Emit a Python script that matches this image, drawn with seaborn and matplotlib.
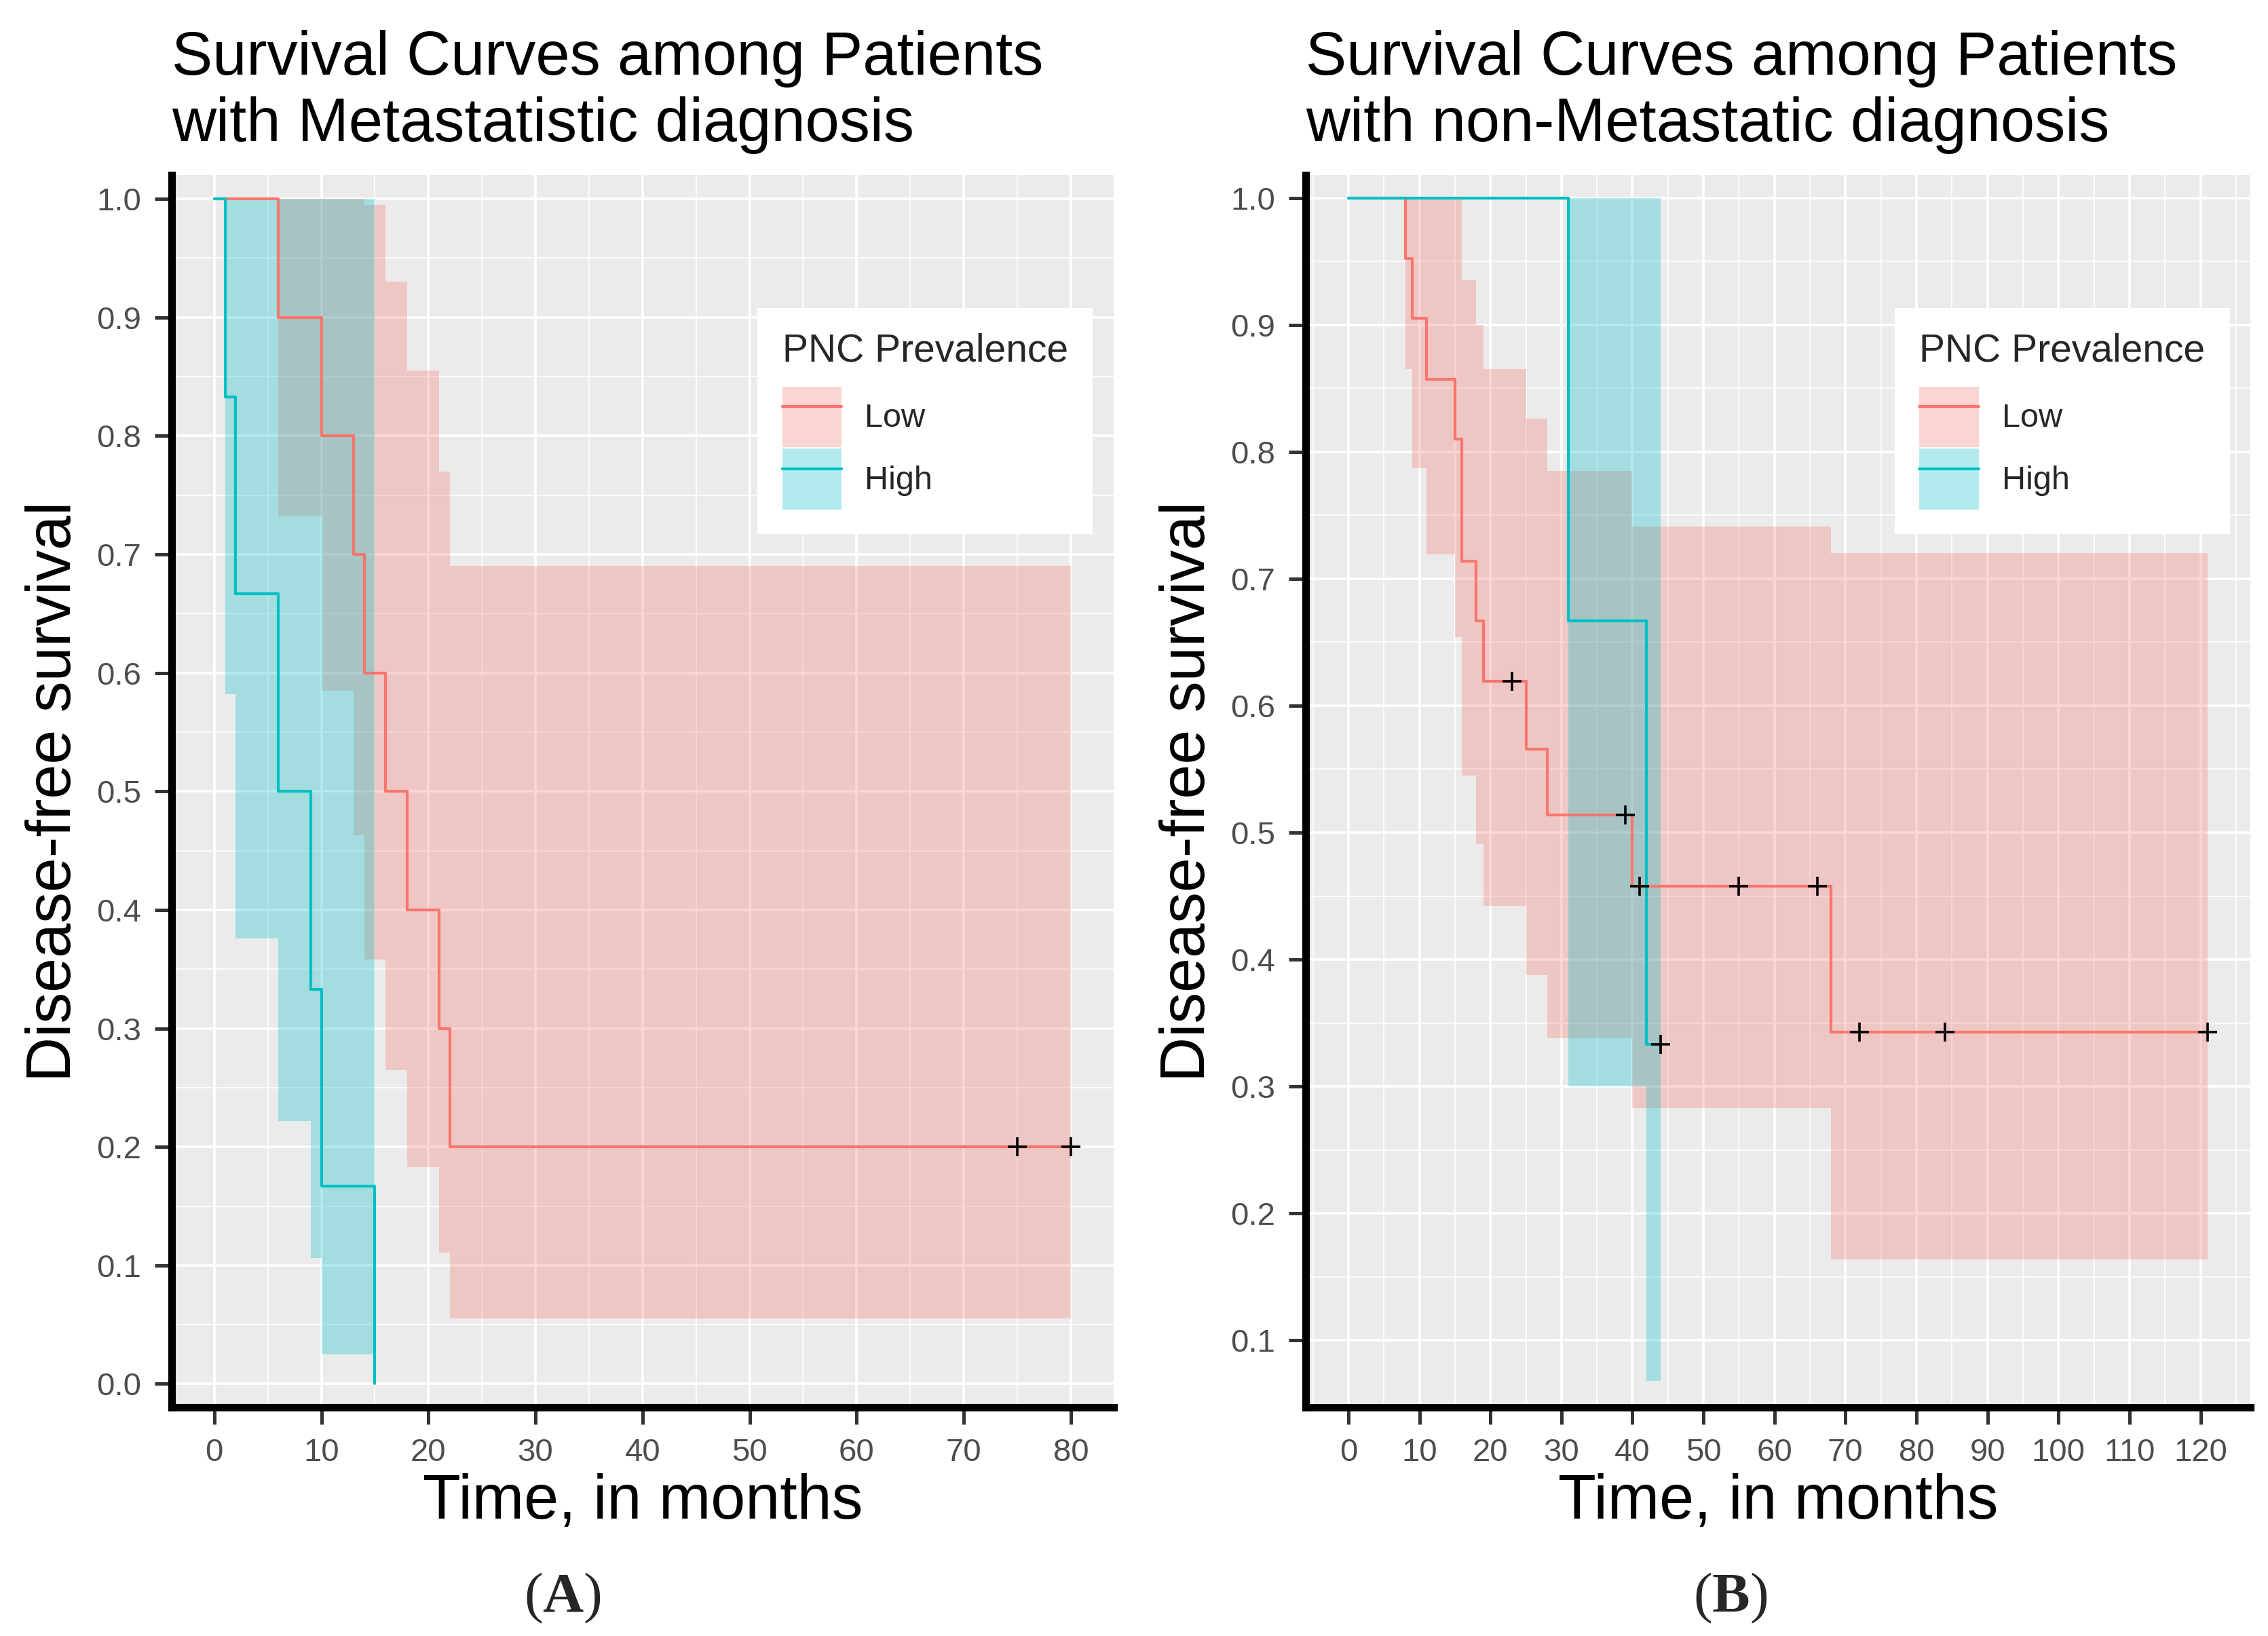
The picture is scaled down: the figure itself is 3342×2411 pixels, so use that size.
import numpy as np
import pandas as pd
import seaborn as sns
import matplotlib.pyplot as plt
from matplotlib.patches import Patch
from matplotlib.lines import Line2D
from matplotlib.ticker import MultipleLocator

# styl w stylu ggplot (szare tło, białe linie siatki)
sns.set_theme(style="darkgrid", rc={"axes.facecolor": "#EBEBEB", "grid.color": "white"})
plt.rcParams["font.family"] = ["Liberation Sans", "DejaVu Sans"]
plt.rcParams["mathtext.fontset"] = "custom"
plt.rcParams["mathtext.rm"] = "Liberation Serif"
plt.rcParams["mathtext.bf"] = "Liberation Serif:bold"

LOW_COLOR = "#F8766D"
HIGH_COLOR = "#00BFC4"

# --- Panel A: metastatic ---
a_low_time = [0, 6, 10, 13, 14, 16, 18, 21, 22, 80]
a_low_surv = [1.0, 0.9, 0.8, 0.7, 0.6, 0.5, 0.4, 0.3, 0.2, 0.2]
a_low_lower = [1.0, 0.732, 0.585, 0.463, 0.358, 0.265, 0.183, 0.111, 0.055, 0.055]
a_low_upper = [1.0, 1.0, 1.0, 1.0, 0.995, 0.93, 0.855, 0.77, 0.69, 0.69]
a_low_cens_time = [75, 80]
a_low_cens_surv = [0.2, 0.2]

a_high_time = [0, 1, 2, 6, 9, 10, 15]
a_high_surv = [1.0, 0.833, 0.667, 0.5, 0.333, 0.167, 0.0]
a_high_lower = [1.0, 0.582, 0.376, 0.222, 0.106, 0.025, 0.0]
a_high_upper = [1.0, 1.0, 1.0, 1.0, 1.0, 1.0, 0.0]

# --- Panel B: non-metastatic ---
b_low_time = [0, 8, 9, 11, 15, 16, 18, 19, 25, 28, 40, 68, 121]
b_low_surv = [1.0, 0.952, 0.905, 0.857, 0.810, 0.714, 0.667, 0.619, 0.566, 0.514, 0.458, 0.343, 0.343]
b_low_lower = [1.0, 0.865, 0.787, 0.719, 0.654, 0.545, 0.491, 0.442, 0.388, 0.338, 0.283, 0.164, 0.164]
b_low_upper = [1.0, 1.0, 1.0, 1.0, 1.0, 0.935, 0.90, 0.865, 0.826, 0.785, 0.741, 0.72, 0.72]
b_low_cens_time = [23, 39, 41, 55, 66, 72, 84, 121]
b_low_cens_surv = [0.619, 0.514, 0.458, 0.458, 0.458, 0.343, 0.343, 0.343]

b_high_time = [0, 31, 42, 44]
b_high_surv = [1.0, 0.667, 0.333, 0.333]
b_high_lower = [1.0, 0.30, 0.068, 0.068]
b_high_upper = [1.0, 1.0, 1.0, 1.0]
b_high_cens_time = [44]
b_high_cens_surv = [0.333]

groups = ["Low", "High"]


def draw_panel(ax, curves, cens_t, cens_s, title, xlim, ylim, yticks):
    for (t, s, lo, hi), color in zip(curves, [LOW_COLOR, HIGH_COLOR]):
        ax.fill_between(t, lo, hi, step="post", color=color, alpha=0.3, lw=0)
        sns.lineplot(x=t, y=s, drawstyle="steps-post", color=color, lw=1.5,
                     estimator=None, ax=ax)
    sns.scatterplot(x=cens_t, y=cens_s, marker="+", color="black", s=100,
                    linewidth=1.3, ax=ax, zorder=5)

    ax.set_xlim(*xlim)
    ax.set_ylim(*ylim)
    ax.xaxis.set_major_locator(MultipleLocator(10))
    ax.xaxis.set_minor_locator(MultipleLocator(5))
    ax.set_yticks(yticks)
    ax.yaxis.set_minor_locator(MultipleLocator(0.05))
    ax.set_yticklabels([f"{v:.1f}" for v in yticks])
    ax.grid(which="major", color="white", lw=1.3)
    ax.grid(which="minor", color="white", lw=0.6)
    ax.tick_params(which="major", bottom=True, left=True, length=9, width=1.8,
                   color="#333333", labelcolor="#4D4D4D", labelsize=17, pad=7)
    ax.tick_params(which="minor", length=0)
    for side in ["top", "right"]:
        ax.spines[side].set_visible(False)
    for side in ["left", "bottom"]:
        ax.spines[side].set_visible(True)
        ax.spines[side].set_color("black")
        ax.spines[side].set_linewidth(4)

    ax.set_title(title, loc="left", fontsize=32.5, pad=18, color="black")
    ax.set_xlabel("Time, in months", fontsize=33, labelpad=3, color="black")
    ax.set_ylabel("Disease-free survival", fontsize=33, labelpad=7, color="black")

    handles = [
        (Patch(facecolor=c, alpha=0.3, lw=0), Line2D([], [], color=c, lw=1.5))
        for c in [LOW_COLOR, HIGH_COLOR]
    ]
    leg = ax.legend(handles, groups, title="PNC Prevalence", loc="upper right",
                    bbox_to_anchor=(0.978, 0.892), borderaxespad=0, frameon=True,
                    facecolor="white", edgecolor="none", fancybox=False,
                    framealpha=1, fontsize=17.5, title_fontsize=20.5,
                    handlelength=1.8, handleheight=2.45, labelspacing=0.05,
                    borderpad=0.75, handletextpad=0.7, alignment="left")
    # trochę więcej odstępu pod tytułem legendy
    leg.get_children()[0].sep = 9


fig = plt.figure(figsize=(16.71, 12.055), dpi=200)
ax_a = fig.add_axes([0.0756, 0.1396, 0.4154, 0.7534])
ax_b = fig.add_axes([0.5756, 0.1396, 0.4167, 0.7534])

draw_panel(
    ax_a,
    [(a_low_time, a_low_surv, a_low_lower, a_low_upper),
     (a_high_time, a_high_surv, a_high_lower, a_high_upper)],
    a_low_cens_time, a_low_cens_surv,
    "Survival Curves among Patients\nwith Metastatistic diagnosis",
    (-4, 84), (-0.02, 1.02), np.round(np.arange(0, 1.01, 0.1), 1),
)
draw_panel(
    ax_b,
    [(b_low_time, b_low_surv, b_low_lower, b_low_upper),
     (b_high_time, b_high_surv, b_high_lower, b_high_upper)],
    b_low_cens_time + b_high_cens_time, b_low_cens_surv + b_high_cens_surv,
    "Survival Curves among Patients\nwith non-Metastatic diagnosis",
    (-6.05, 127.05), (0.047, 1.018), np.round(np.arange(0.1, 1.01, 0.1), 1),
)

fig.text(0.248, 0.023, r"($\mathbf{A}$)", ha="center", va="center",
         fontsize=30, family="Liberation Serif")
fig.text(0.763, 0.023, r"($\mathbf{B}$)", ha="center", va="center",
         fontsize=30, family="Liberation Serif")

fig.savefig("out.png", dpi=200)
